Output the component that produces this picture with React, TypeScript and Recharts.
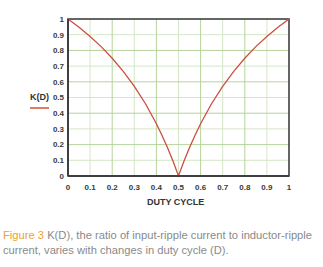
import React from "react";
import { LineChart, Line, XAxis, YAxis, CartesianGrid, ReferenceArea } from "recharts";

const dutyCycle = [0, 0.05, 0.1, 0.15, 0.2, 0.25, 0.3, 0.35, 0.4, 0.425, 0.45, 0.475, 0.5, 0.525, 0.55, 0.575, 0.6, 0.65, 0.7, 0.75, 0.8, 0.85, 0.9, 0.95, 1];
const kValues = [1, 0.947, 0.889, 0.824, 0.75, 0.667, 0.571, 0.462, 0.333, 0.26, 0.182, 0.095, 0, 0.095, 0.182, 0.26, 0.333, 0.462, 0.571, 0.667, 0.75, 0.824, 0.889, 0.947, 1];
const ticks = [0, 0.1, 0.2, 0.3, 0.4, 0.5, 0.6, 0.7, 0.8, 0.9, 1];
const majorGrid = [0.2, 0.4, 0.6, 0.8];
const minorGrid = [0.1, 0.3, 0.5, 0.7, 0.9];

const data = dutyCycle.map((d, i) => ({ d, k: kValues[i] }));
const fmt = (v: number) => (v === 0 ? "0" : v === 1 ? "1" : String(v));
const tickStyle = { fontFamily: "Liberation Sans, Arial, sans-serif", fontSize: 8, fontWeight: 700, fill: "#3a3a3a" };

export default function App() {
  return (
    <div style={{ position: "absolute", left: 0, top: 0, width: 323, height: 267, background: "#fff", overflow: "hidden" }}>
      <LineChart width={323} height={267} data={data} margin={{ top: 19, right: 34, left: 0, bottom: 51 }}>
        <CartesianGrid stroke="#d6e6c8" strokeWidth={1} horizontalValues={minorGrid} verticalValues={minorGrid} />
        <CartesianGrid stroke="#b4d49c" strokeWidth={1} horizontalValues={majorGrid} verticalValues={majorGrid} />
        <XAxis
          dataKey="d"
          type="number"
          domain={[0, 1]}
          ticks={ticks}
          tickFormatter={fmt}
          tick={tickStyle}
          tickLine={false}
          tickSize={0}
          tickMargin={8}
          axisLine={{ stroke: "#333", strokeWidth: 1.5 }}
          height={40}
          interval={0}
        />
        <YAxis
          type="number"
          domain={[0, 1]}
          ticks={ticks}
          tickFormatter={fmt}
          tick={tickStyle}
          tickLine={false}
          tickSize={0}
          tickMargin={4}
          axisLine={{ stroke: "#333", strokeWidth: 1.5 }}
          width={68}
          interval={0}
        />
        <ReferenceArea x1={0} x2={1} y1={0} y2={1} fill="none" stroke="#333" strokeWidth={1.5} fillOpacity={0} />
        <Line dataKey="k" type="linear" stroke="#cc4e40" strokeWidth={1.3} dot={false} isAnimationActive={false} />
      </LineChart>
      <div style={{ position: "absolute", left: 30, top: 92, fontFamily: "Liberation Sans, Arial, sans-serif", fontSize: 9, fontWeight: 700, color: "#333", lineHeight: "10px" }}>K(D)</div>
      <div style={{ position: "absolute", left: 30, top: 107, width: 19, height: 1.5, background: "#e07a6a" }} />
      <div style={{ position: "absolute", left: 147, top: 197, fontFamily: "Liberation Sans, Arial, sans-serif", fontSize: 9, fontWeight: 700, color: "#333", lineHeight: "10px", whiteSpace: "nowrap" }}>DUTY CYCLE</div>
      <div style={{ position: "absolute", left: 3, top: 228, fontFamily: "Liberation Sans, Arial, sans-serif", fontSize: 11.2, color: "#8a8a8a", lineHeight: "15px", whiteSpace: "nowrap" }}>
        <span style={{ color: "#f0a030" }}>Figure 3</span> K(D), the ratio of input-ripple current to inductor-ripple
        <br />
        current, varies with changes in duty cycle (D).
      </div>
    </div>
  );
}
